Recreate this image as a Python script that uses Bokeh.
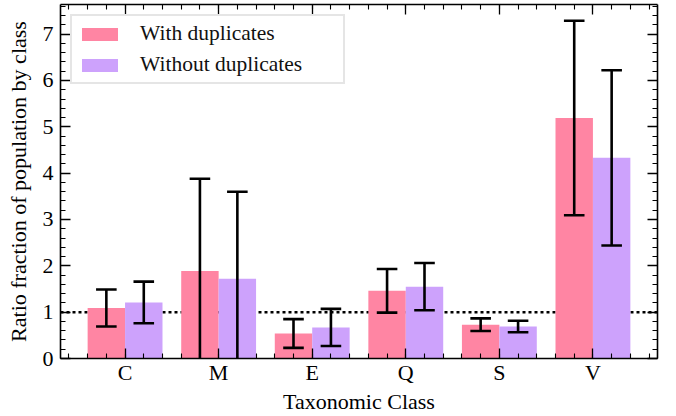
from bokeh.plotting import figure
from bokeh.models import (ColumnDataSource, FixedTicker, LinearAxis, Range1d, Span,
                          Legend, LegendItem, CustomLabelingPolicy)
from bokeh.embed import file_html
from bokeh.resources import INLINE

classes = ["C", "M", "E", "Q", "S", "V"]
with_dup = [1.09, 1.89, 0.54, 1.46, 0.73, 5.19]
with_err = [0.40, 1.99, 0.31, 0.47, 0.135, 2.10]
without_dup = [1.21, 1.72, 0.67, 1.55, 0.69, 4.33]
without_err = [0.45, 1.88, 0.40, 0.51, 0.125, 1.89]
y_ticks = [0, 1, 2, 3, 4, 5, 6, 7]

PINK = "#ff85a3"
PURPLE = "#cda2fc"
FONT = "Liberation Serif"
BAR_W = 0.4
CAP = 0.11

xs = list(range(len(classes)))
x_with = [x - BAR_W / 2 for x in xs]
x_without = [x + BAR_W / 2 for x in xs]

def src(xpos, vals, errs):
    return ColumnDataSource(dict(
        x=xpos, top=vals,
        lo=[v - e for v, e in zip(vals, errs)],
        hi=[v + e for v, e in zip(vals, errs)],
        cx0=[x - CAP for x in xpos], cx1=[x + CAP for x in xpos],
    ))

s_with = src(x_with, with_dup, with_err)
s_without = src(x_without, without_dup, without_err)

p = figure(width=676, height=416, output_backend="svg", toolbar_location=None,
           x_range=Range1d(-0.69, 5.69), y_range=Range1d(0, 7.64),
           min_border_left=60, min_border_right=19, min_border_top=2, min_border_bottom=58,
           x_axis_location=None, y_axis_location=None)
p.grid.visible = False
p.outline_line_color = None
p.background_fill_color = "white"
p.border_fill_color = "white"

p.add_layout(Span(location=1, dimension="width", line_color="black", line_width=2.5,
                  line_dash="3 3", level="underlay"))

r1 = p.vbar(x="x", top="top", width=BAR_W, bottom=0, source=s_with,
            fill_color=PINK, line_color=None)
r2 = p.vbar(x="x", top="top", width=BAR_W, bottom=0, source=s_without,
            fill_color=PURPLE, line_color=None)

for s in (s_with, s_without):
    p.segment(x0="x", y0="lo", x1="x", y1="hi", source=s, line_color="black", line_width=2.6)
    p.segment(x0="cx0", y0="lo", x1="cx1", y1="lo", source=s, line_color="black", line_width=2.6)
    p.segment(x0="cx0", y0="hi", x1="cx1", y1="hi", source=s, line_color="black", line_width=2.6)

x_minor = [round(k * 0.2, 2) for k in range(-3, 29)]
y_minor = [round(k * 0.2, 2) for k in range(0, 39)]

hide_labels = CustomLabelingPolicy(code="return new indices.constructor(indices.size, 0);")

def style(ax, labels=True):
    ax.axis_line_color = "black"
    ax.axis_line_width = 1.6
    ax.major_tick_line_color = "black"
    ax.minor_tick_line_color = "black"
    ax.major_tick_line_width = 1.3
    ax.minor_tick_line_width = 1.1
    ax.major_tick_in = 10
    ax.major_tick_out = 0
    ax.minor_tick_in = 5
    ax.minor_tick_out = 0
    ax.major_label_text_font = FONT
    ax.major_label_text_font_size = "22px"
    ax.major_label_text_color = "black"
    ax.axis_label_text_font = FONT
    ax.axis_label_text_font_size = "22px"
    ax.axis_label_text_font_style = "normal"
    ax.axis_label_text_color = "black"
    if not labels:
        ax.major_label_policy = hide_labels
        ax.major_label_text_font_size = "1px"
        ax.major_label_standoff = 0

xb = LinearAxis(ticker=FixedTicker(ticks=xs, minor_ticks=x_minor),
                major_label_overrides={i: c for i, c in enumerate(classes)},
                axis_label="Taxonomic Class")
style(xb)
xb.major_label_standoff = 1
xb.axis_label_standoff = 1
p.add_layout(xb, "below")

xt = LinearAxis(ticker=FixedTicker(ticks=xs, minor_ticks=x_minor))
style(xt, labels=False)
p.add_layout(xt, "above")

yl = LinearAxis(ticker=FixedTicker(ticks=y_ticks, minor_ticks=y_minor),
                axis_label="Ratio fraction of population by class")
style(yl)
yl.major_label_standoff = 7
yl.axis_label_standoff = 9
p.add_layout(yl, "left")

yr = LinearAxis(ticker=FixedTicker(ticks=y_ticks, minor_ticks=y_minor))
style(yr, labels=False)
p.add_layout(yr, "right")

legend = Legend(items=[LegendItem(label="With duplicates", renderers=[r1]),
                       LegendItem(label="Without duplicates", renderers=[r2])],
                location="top_left")
legend.label_text_font = FONT
legend.label_text_font_size = "21.5px"
legend.label_text_color = "#111111"
legend.glyph_width = 45
legend.glyph_height = 16
legend.label_standoff = 18
legend.label_width = 198
legend.spacing = 6
legend.padding = 5
legend.margin = 10
legend.border_line_color = "#cccccc"
legend.border_line_width = 2
legend.background_fill_color = "white"
legend.background_fill_alpha = 1
p.add_layout(legend)

open("out.html", "w").write(file_html(p, INLINE))
